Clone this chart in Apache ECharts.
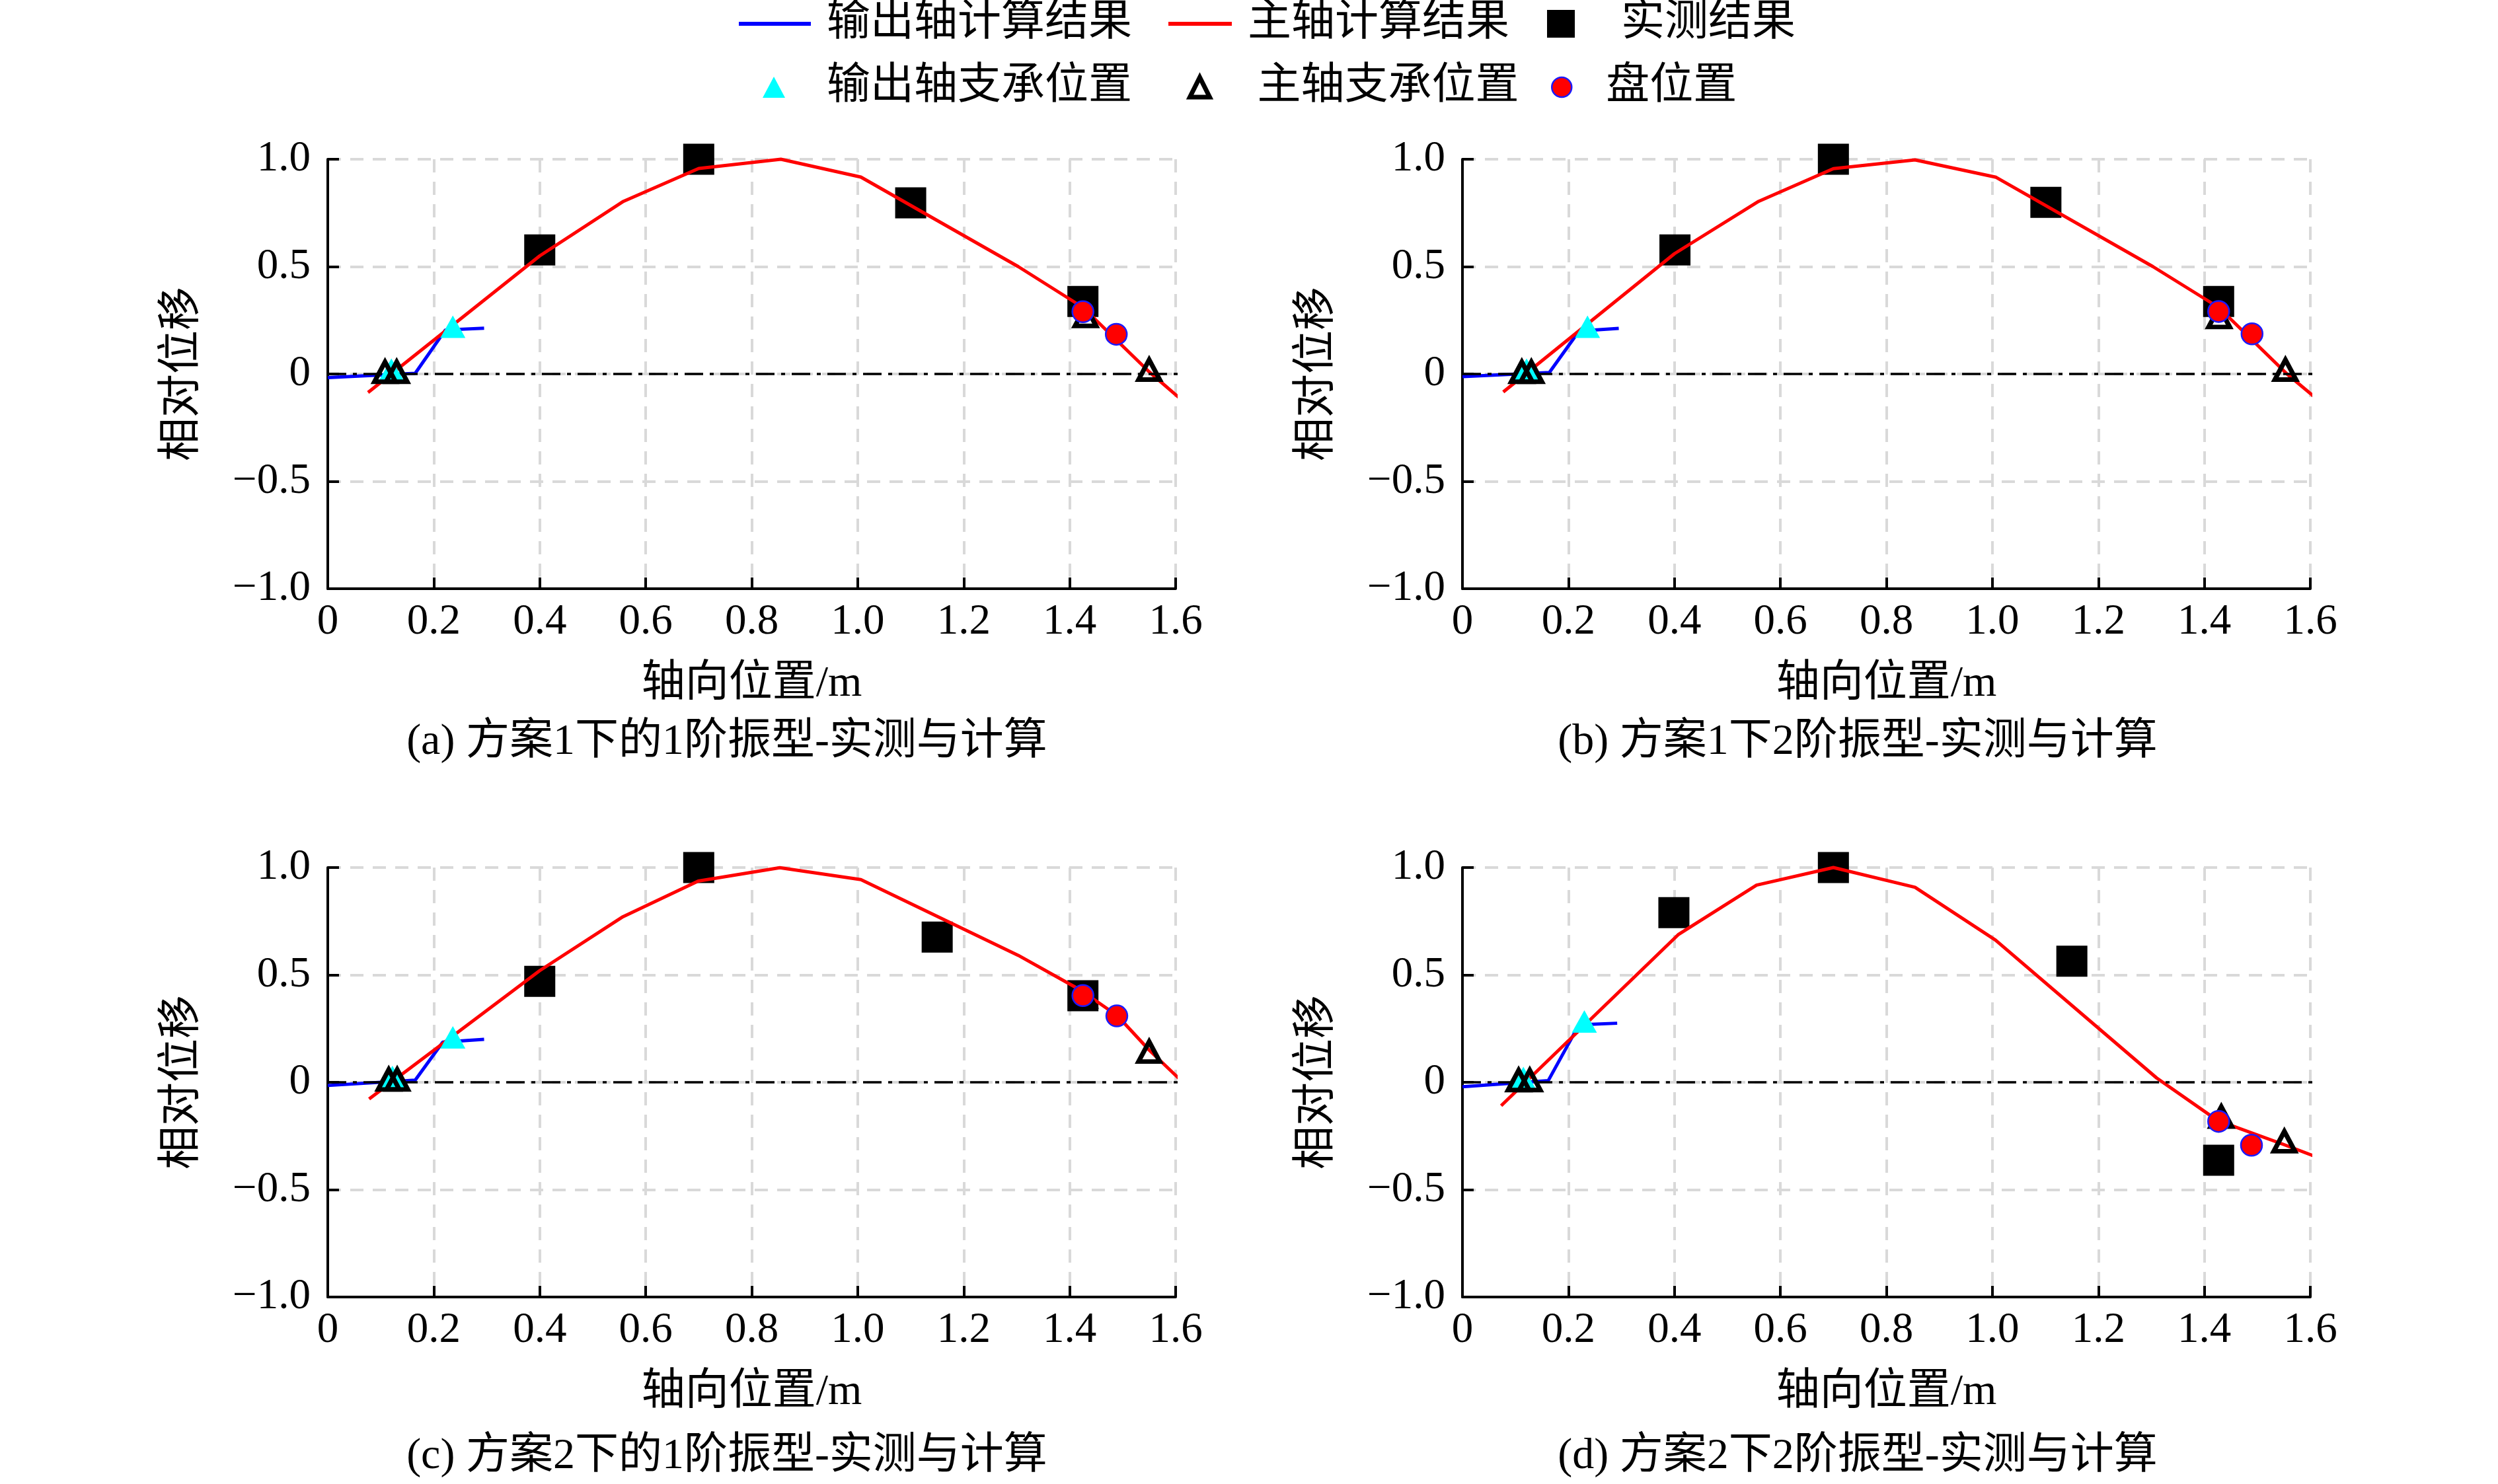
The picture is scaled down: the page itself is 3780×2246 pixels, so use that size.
<!DOCTYPE html>
<html>
<head>
<meta charset="utf-8">
<script src="https://cdn.jsdelivr.net/npm/echarts@6/dist/echarts.min.js"></script>
<style>
html,body{margin:0;padding:0;background:#fff;}
#c{width:3780px;height:2246px;}
</style>
</head>
<body>
<div id="c"></div>
<script>
// ---------- data ----------
const xTicks = [0, 0.2, 0.4, 0.6, 0.8, 1.0, 1.2, 1.4, 1.6];
const yTicks = [-1.0, -0.5, 0, 0.5, 1.0];
const captions = [
  '(a) 方案1下的1阶振型-实测与计算',
  '(b) 方案1下2阶振型-实测与计算',
  '(c) 方案2下的1阶振型-实测与计算',
  '(d) 方案2下2阶振型-实测与计算'
];
const seriesNames = ['输出轴计算结果', '主轴计算结果', '实测结果', '输出轴支承位置', '主轴支承位置', '盘位置'];

// (a)
const outCalcA = [[0,-0.017],[0.165,0.003],[0.222,0.205],[0.295,0.213]];
const mainCalcA = [[0.076,-0.086],[0.40,0.55],[0.558,0.804],[0.70,0.957],[0.855,1.0],[1.006,0.917],[1.303,0.50],[1.425,0.31],[1.55,0.01],[1.618,-0.135]];
const measA = [[0.40,0.578],[0.70,1.0],[1.10,0.797],[1.425,0.338]];
const outSupA = [[0.12,0.02],[0.236,0.22]];
const mainSupA = [[0.108,0.01],[0.13,0.01],[1.43,0.27],[1.55,0.02]];
const diskA = [[1.425,0.29],[1.488,0.185]];
// (b)
const outCalcB = [[0,-0.012],[0.164,0.007],[0.22,0.20],[0.295,0.212]];
const mainCalcB = [[0.077,-0.084],[0.40,0.56],[0.559,0.804],[0.70,0.956],[0.854,0.997],[1.007,0.916],[1.303,0.50],[1.427,0.31],[1.556,0.0],[1.62,-0.132]];
const measB = [[0.401,0.578],[0.70,1.0],[1.101,0.799],[1.427,0.338]];
const outSupB = [[0.121,0.02],[0.236,0.22]];
const mainSupB = [[0.112,0.01],[0.13,0.01],[1.428,0.265],[1.553,0.02]];
const diskB = [[1.427,0.291],[1.49,0.187]];
// (c)
const outCalcC = [[0,-0.015],[0.165,0.01],[0.217,0.187],[0.295,0.20]];
const mainCalcC = [[0.078,-0.078],[0.40,0.52],[0.557,0.771],[0.699,0.937],[0.853,0.999],[1.006,0.944],[1.303,0.591],[1.42,0.43],[1.49,0.31],[1.55,0.15],[1.618,-0.01]];
const measC = [[0.40,0.47],[0.70,1.0],[1.15,0.676],[1.425,0.403]];
const outSupC = [[0.122,0.025],[0.236,0.209]];
const mainSupC = [[0.115,0.013],[0.131,0.013],[1.428,0.40],[1.55,0.143]];
const diskC = [[1.425,0.404],[1.489,0.309]];
// (d)
const outCalcD = [[0,-0.021],[0.162,0.008],[0.22,0.268],[0.292,0.275]];
const mainCalcD = [[0.073,-0.109],[0.407,0.687],[0.555,0.918],[0.70,1.0],[0.854,0.908],[1.006,0.662],[1.31,0.02],[1.425,-0.178],[1.55,-0.29],[1.618,-0.354]];
const measD = [[0.399,0.79],[0.70,1.0],[1.15,0.564],[1.427,-0.363]];
const outSupD = [[0.115,0.02],[0.23,0.283]];
const mainSupD = [[0.106,0.01],[0.127,0.01],[1.432,-0.16],[1.551,-0.275]];
const diskD = [[1.427,-0.182],[1.489,-0.293]];

const zeroLine = [[0,0],[1.61,0]];

const panels = [
  {out: outCalcA, main: mainCalcA, meas: measA, outSup: outSupA, mainSup: mainSupA, disk: diskA},
  {out: outCalcB, main: mainCalcB, meas: measB, outSup: outSupB, mainSup: mainSupB, disk: diskB},
  {out: outCalcC, main: mainCalcC, meas: measC, outSup: outSupC, mainSup: mainSupC, disk: diskC},
  {out: outCalcD, main: mainCalcD, meas: measD, outSup: outSupD, mainSup: mainSupD, disk: diskD}
];

// ---------- layout ----------
const FONT = "'Liberation Serif','Noto Sans CJK SC',serif";
const gridPos = [
  {left: 496, top: 241}, {left: 2213, top: 241},
  {left: 496, top: 1313}, {left: 2213, top: 1313}
];
const GW = 1283, GH = 650;
const captionPos = [
  {x: 1100, y: 1091}, {x: 2811, y: 1091},
  {x: 1100, y: 2172}, {x: 2811, y: 2172}
];

const grids = [], xAxes = [], yAxes = [], series = [], titles = [];
const axisLineStyle = {color: '#000', width: 4};
const splitStyle = {show: true, lineStyle: {color: '#d9d9d9', width: 4, type: [20, 14]}};

panels.forEach((p, i) => {
  grids.push({left: gridPos[i].left, top: gridPos[i].top, width: GW, height: GH, containLabel: false});
  xAxes.push({
    type: 'value', gridIndex: i, min: 0, max: 1.6, interval: 0.2,
    axisLine: {show: true, onZero: false, lineStyle: axisLineStyle},
    axisTick: {show: true, inside: true, length: 17, lineStyle: axisLineStyle},
    axisLabel: {show: true, margin: 18, fontSize: 65, color: '#000', fontFamily: FONT,
      formatter: v => (Math.abs(v) < 1e-9 ? '0' : v.toFixed(1))},
    splitLine: splitStyle,
    name: '轴向位置/m', nameLocation: 'middle', nameGap: 112,
    nameTextStyle: {fontSize: 66, color: '#000', fontFamily: FONT}
  });
  yAxes.push({
    type: 'value', gridIndex: i, min: -1, max: 1, interval: 0.5,
    axisLine: {show: true, onZero: false, lineStyle: axisLineStyle},
    axisTick: {show: true, inside: true, length: 17, lineStyle: axisLineStyle},
    axisLabel: {show: true, margin: 26, fontSize: 65, color: '#000', fontFamily: FONT,
      formatter: v => (Math.abs(v) < 1e-9 ? '0' : (v < 0 ? '\u2212' : '') + Math.abs(v).toFixed(1))},
    splitLine: splitStyle,
    name: '相对位移', nameLocation: 'middle', nameGap: 186, nameRotate: 90,
    nameTextStyle: {fontSize: 66, color: '#000', fontFamily: FONT}
  });
  titles.push({
    text: captions[i], left: captionPos[i].x, top: captionPos[i].y, textAlign: 'center', padding: 0,
    textStyle: {fontSize: 66, fontWeight: 'normal', color: '#000', fontFamily: FONT}
  });
  series.push({
    name: '实测结果', type: 'scatter', xAxisIndex: i, yAxisIndex: i, data: p.meas,
    symbol: 'rect', symbolSize: 47, itemStyle: {color: '#000', opacity: 1}, z: 2
  });
  series.push({
    name: '输出轴计算结果', type: 'line', xAxisIndex: i, yAxisIndex: i, data: p.out,
    symbol: 'none', lineStyle: {color: '#0000ff', width: 5}, itemStyle: {color: '#0000ff'}, z: 3, clip: false
  });
  series.push({
    name: '主轴计算结果', type: 'line', xAxisIndex: i, yAxisIndex: i, data: p.main,
    symbol: 'none', lineStyle: {color: '#ff0000', width: 5}, itemStyle: {color: '#ff0000'}, z: 3, clip: false
  });
  series.push({
    name: 'zero', type: 'line', xAxisIndex: i, yAxisIndex: i, data: zeroLine,
    symbol: 'none', lineStyle: {color: '#000', width: 3.5, type: [28, 10, 6, 10]}, z: 3, clip: false, silent: true
  });
  series.push({
    name: '输出轴支承位置', type: 'scatter', xAxisIndex: i, yAxisIndex: i, data: p.outSup,
    symbol: 'triangle', symbolSize: [38, 34], itemStyle: {color: '#00ffff', opacity: 1}, z: 4
  });
  series.push({
    name: '主轴支承位置', type: 'scatter', xAxisIndex: i, yAxisIndex: i, data: p.mainSup,
    symbol: 'triangle', symbolSize: [32, 30],
    itemStyle: {color: 'rgba(255,255,255,0)', borderColor: '#000', borderWidth: 7, opacity: 1}, z: 5
  });
  series.push({
    name: '盘位置', type: 'scatter', xAxisIndex: i, yAxisIndex: i, data: p.disk,
    symbol: 'circle', symbolSize: 32,
    itemStyle: {color: '#ff0000', borderColor: '#1a1aff', borderWidth: 2.5, opacity: 1}, z: 6
  });
});

const legendText = {fontSize: 66, color: '#000', fontFamily: FONT};
function mkLegend(item, left, top, w, h, padLeft) {
  return {
    data: [item], left: left, top: top, itemWidth: w, itemHeight: h, padding: 0,
    selectedMode: false, orient: 'horizontal',
    textStyle: Object.assign({}, legendText, {padding: [0, 0, 0, padLeft]})
  };
}
const legends = [
  mkLegend({name: '输出轴计算结果', icon: 'rect', itemStyle: {color: '#0000ff'}}, 1118, 3, 109, 6, 19),
  mkLegend({name: '主轴计算结果', icon: 'rect', itemStyle: {color: '#ff0000'}}, 1768, 3, 96, 6, 19),
  mkLegend({name: '实测结果', icon: 'rect', itemStyle: {color: '#000', opacity: 1}}, 2341, 3, 42, 42, 65),
  mkLegend({name: '输出轴支承位置', icon: 'triangle', itemStyle: {color: '#00ffff', opacity: 1}}, 1154, 99, 34, 32, 58),
  mkLegend({name: '主轴支承位置', icon: 'triangle',
    itemStyle: {color: 'rgba(255,255,255,0)', borderColor: '#000', borderWidth: 7, opacity: 1}}, 1797, 99, 30, 30, 67),
  mkLegend({name: '盘位置', icon: 'circle',
    itemStyle: {color: '#ff0000', borderColor: '#1a1aff', borderWidth: 2.5, opacity: 1}}, 2347, 99, 30, 30, 47)
];

const chart = echarts.init(document.getElementById('c'), null, {renderer: 'canvas'});
chart.setOption({
  animation: false,
  backgroundColor: '#fff',
  title: titles,
  legend: legends,
  grid: grids,
  xAxis: xAxes,
  yAxis: yAxes,
  series: series
});
</script>
</body>
</html>
